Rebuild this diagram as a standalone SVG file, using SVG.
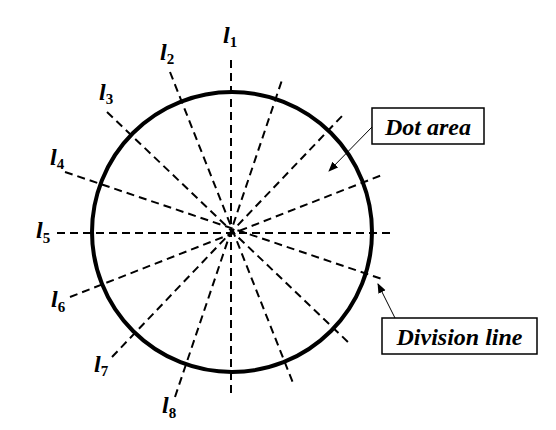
<svg xmlns="http://www.w3.org/2000/svg" width="556" height="430" viewBox="0 0 556 430">
<style>
.dl{stroke:#000;stroke-width:2;stroke-dasharray:8,5;fill:none}
.lab{font-family:'Liberation Serif','DejaVu Serif',serif;font-style:italic;font-weight:bold;font-size:24px;fill:#000}
.sub{font-family:'Liberation Serif','DejaVu Serif',serif;font-style:normal;font-weight:bold;font-size:15px;fill:#000}
.box{fill:#fff;stroke:#000;stroke-width:1.5}
.bt{font-family:'Liberation Serif','DejaVu Serif',serif;font-style:italic;font-weight:bold;font-size:24px;fill:#000}
.ar{stroke:#000;stroke-width:1;fill:none}
</style>
<defs>
<marker id="ah" viewBox="0 0 10 10" refX="9" refY="5" markerWidth="10" markerHeight="10" markerUnits="userSpaceOnUse" orient="auto">
<path d="M0,1 L10,5 L0,9 Z" fill="#000"/>
</marker>
</defs>
<rect width="556" height="430" fill="#fff"/>
<g id="circle">
<circle cx="232" cy="232" r="140" fill="none" stroke="#000" stroke-width="4"/>
</g>
<g id="connectors">
<line class="dl" x1="231" y1="60" x2="231" y2="395"/>
<line class="dl" x1="170" y1="72" x2="293" y2="383"/>
<line class="dl" x1="107" y1="112" x2="348" y2="342"/>
<line class="dl" x1="65" y1="172" x2="385" y2="280"/>
<line class="dl" x1="57" y1="233" x2="392" y2="233"/>
<line class="dl" x1="70" y1="297" x2="382" y2="175"/>
<line class="dl" x1="112" y1="357" x2="343" y2="115"/>
<line class="dl" x1="175" y1="397" x2="283" y2="77"/>
<line class="ar" x1="372" y1="127" x2="329" y2="171" marker-end="url(#ah)"/>
<line class="ar" x1="395" y1="318" x2="378" y2="284" marker-end="url(#ah)"/>
</g>
<g id="labels">
<text class="lab" x="223" y="43">l<tspan class="sub" dy="4">1</tspan></text>
<text class="lab" x="160" y="60">l<tspan class="sub" dy="4">2</tspan></text>
<text class="lab" x="99" y="100">l<tspan class="sub" dy="4">3</tspan></text>
<text class="lab" x="50" y="165">l<tspan class="sub" dy="4">4</tspan></text>
<text class="lab" x="36" y="238">l<tspan class="sub" dy="5">5</tspan></text>
<text class="lab" x="51" y="307">l<tspan class="sub" dy="5">6</tspan></text>
<text class="lab" x="94" y="372">l<tspan class="sub" dy="4">7</tspan></text>
<text class="lab" x="162" y="413">l<tspan class="sub" dy="5">8</tspan></text>
</g>
<g id="dot-area">
<rect class="box" x="372" y="108" width="112" height="36"/>
<text class="bt" x="428" y="135" text-anchor="middle">Dot area</text>
</g>
<g id="division-line">
<rect class="box" x="382" y="318" width="155" height="36"/>
<text class="bt" x="459.5" y="345" text-anchor="middle">Division line</text>
</g>
</svg>
